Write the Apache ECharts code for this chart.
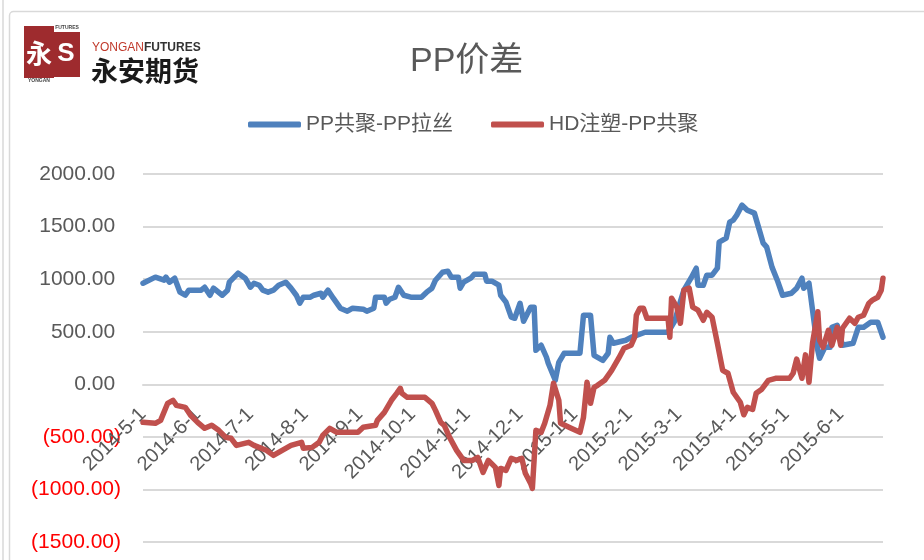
<!DOCTYPE html>
<html>
<head>
<meta charset="utf-8">
<script src="https://cdn.jsdelivr.net/npm/echarts@6/dist/echarts.min.js"></script>
<style>
  html, body { margin: 0; padding: 0; background: #fff; }
  #chart { width: 924px; height: 560px; }
</style>
</head>
<body>
<div id="chart"></div>
<script>
  // PP共聚-PP拉丝
  var blueDates = ['2014-5-1', '2014-5-8', '2014-5-13', '2014-5-14', '2014-5-16', '2014-5-19', '2014-5-22', '2014-5-25', '2014-5-27',
    '2014-6-3', '2014-6-5', '2014-6-8', '2014-6-10', '2014-6-15', '2014-6-18', '2014-6-19', '2014-6-24', '2014-6-28',
    '2014-7-1', '2014-7-3', '2014-7-6', '2014-7-8', '2014-7-11', '2014-7-14', '2014-7-15', '2014-7-17', '2014-7-18', '2014-7-21', '2014-7-24', '2014-7-27', '2014-7-29', '2014-7-31',
    '2014-8-4', '2014-8-6', '2014-8-10', '2014-8-11', '2014-8-14', '2014-8-17', '2014-8-21', '2014-8-25', '2014-8-28',
    '2014-9-3', '2014-9-5', '2014-9-9', '2014-9-10', '2014-9-15', '2014-9-16', '2014-9-18', '2014-9-21', '2014-9-23', '2014-9-26', '2014-9-30',
    '2014-10-6', '2014-10-9', '2014-10-12', '2014-10-14', '2014-10-18', '2014-10-21', '2014-10-23', '2014-10-27', '2014-10-28', '2014-10-30',
    '2014-11-3', '2014-11-5', '2014-11-11', '2014-11-12', '2014-11-15', '2014-11-19', '2014-11-20', '2014-11-23', '2014-11-26', '2014-11-28',
    '2014-12-1', '2014-12-3', '2014-12-7', '2014-12-9', '2014-12-10', '2014-12-13', '2014-12-16', '2014-12-17', '2014-12-21', '2014-12-23', '2014-12-26',
    '2015-1-4', '2015-1-6', '2015-1-10', '2015-1-12', '2015-1-17', '2015-1-20', '2015-1-21', '2015-1-23', '2015-1-30',
    '2015-2-2', '2015-2-10', '2015-2-23', '2015-2-27',
    '2015-3-1', '2015-3-4', '2015-3-8', '2015-3-11', '2015-3-12', '2015-3-15', '2015-3-17', '2015-3-20', '2015-3-23', '2015-3-24', '2015-3-28', '2015-3-30',
    '2015-4-1', '2015-4-3', '2015-4-6', '2015-4-9', '2015-4-13', '2015-4-15', '2015-4-18', '2015-4-20', '2015-4-23', '2015-4-26', '2015-4-29',
    '2015-5-4', '2015-5-7', '2015-5-10', '2015-5-11', '2015-5-14', '2015-5-17', '2015-5-19', '2015-5-20', '2015-5-23', '2015-5-26', '2015-5-27', '2015-5-30',
    '2015-6-2', '2015-6-8', '2015-6-11', '2015-6-14', '2015-6-18', '2015-6-22', '2015-6-25']
  var blueValues = [961, 1019, 990, 1019, 971, 1009, 876, 847, 895,
    895, 923, 847, 914, 847, 895, 971, 1057, 1009,
    923, 961, 942, 895, 876, 895, 876, 942, 933, 971, 914, 847, 771, 828,
    828, 847, 866, 828, 895, 819, 724, 695, 724,
    714, 695, 724, 828, 828, 771, 809, 828, 923, 847, 828,
    828, 876, 914, 990, 1066, 1076, 1019, 1019, 914, 971,
    1009, 1047, 1047, 981, 981, 942, 847, 781, 638, 628,
    771, 600, 733, 733, 323, 371, 257, 200, 38, 209, 295,
    295, 657, 657, 276, 228, 295, 447, 390, 419,
    447, 495, 495, 609,
    733, 895, 1009, 1104, 942, 942, 1038, 1038, 1104, 1352, 1390, 1542,
    1561, 1609, 1704, 1656, 1628, 1514, 1342, 1304, 1114, 990, 847,
    866, 914, 1009, 914, 961, 580, 323, 248, 352, 352, 542, 561,
    371, 390, 542, 542, 590, 590, 447]

  // HD注塑-PP共聚
  var redDates = ['2014-5-1', '2014-5-8', '2014-5-11', '2014-5-15', '2014-5-18', '2014-5-20', '2014-5-25', '2014-5-28',
    '2014-6-1', '2014-6-5', '2014-6-9', '2014-6-13', '2014-6-17', '2014-6-20', '2014-6-23', '2014-6-30',
    '2014-7-3', '2014-7-10', '2014-7-14', '2014-7-19', '2014-7-24', '2014-7-30', '2014-7-31',
    '2014-8-5', '2014-8-9', '2014-8-11', '2014-8-15', '2014-8-19', '2014-8-31',
    '2014-9-3', '2014-9-10', '2014-9-11', '2014-9-15', '2014-9-19', '2014-9-22', '2014-9-24', '2014-9-25', '2014-9-28',
    '2014-10-8', '2014-10-12', '2014-10-14', '2014-10-17', '2014-10-19', '2014-10-22', '2014-10-26', '2014-10-30',
    '2014-11-4', '2014-11-7', '2014-11-10', '2014-11-13', '2014-11-17', '2014-11-19', '2014-11-20', '2014-11-23', '2014-11-26', '2014-11-29',
    '2014-12-2', '2014-12-4', '2014-12-7', '2014-12-8', '2014-12-10', '2014-12-13', '2014-12-15', '2014-12-18', '2014-12-20', '2014-12-23', '2014-12-24', '2014-12-30',
    '2015-1-4', '2015-1-6', '2015-1-8', '2015-1-10', '2015-1-12', '2015-1-14', '2015-1-18', '2015-1-22', '2015-1-26', '2015-1-29',
    '2015-2-2', '2015-2-4', '2015-2-5', '2015-2-7', '2015-2-9', '2015-2-11', '2015-2-23', '2015-2-24', '2015-2-25', '2015-2-28',
    '2015-3-2', '2015-3-4', '2015-3-7', '2015-3-8', '2015-3-9', '2015-3-12', '2015-3-15', '2015-3-17', '2015-3-20', '2015-3-23', '2015-3-26', '2015-3-29',
    '2015-4-1', '2015-4-5', '2015-4-7', '2015-4-9', '2015-4-12', '2015-4-14', '2015-4-17', '2015-4-21', '2015-4-25',
    '2015-5-3', '2015-5-5', '2015-5-7', '2015-5-10', '2015-5-12', '2015-5-14', '2015-5-16', '2015-5-19', '2015-5-20', '2015-5-22', '2015-5-25', '2015-5-27', '2015-5-30',
    '2015-6-1', '2015-6-2', '2015-6-6', '2015-6-9', '2015-6-11', '2015-6-14', '2015-6-17', '2015-6-19', '2015-6-22', '2015-6-24', '2015-6-25']
  var redValues = [-362, -371, -343, -181, -152, -200, -219, -295,
    -362, -419, -390, -438, -505, -514, -581, -552,
    -581, -628, -676, -628, -581, -552, -609,
    -600, -552, -486, -419, -457, -457,
    -409, -390, -343, -267, -152, -86, -38, -86, -124,
    -124, -181, -248, -362, -390, -505, -628, -724,
    -724, -695, -838, -724, -790, -962, -800, -819, -705, -724,
    -705, -847, -943, -990, -438, -457, -371, -200, 10, -152, -371, -419,
    -457, -314, 19, -181, -29, -10, 38, 133, 248, 343,
    371, 447, 657, 724, 724, 628, 628, 447, 819, 733,
    580, 895, 914, 914, 733, 705, 609, 685, 638, 390, 133, 105,
    -76, -171, -290, -220, -240, -86, -50, 38, 57,
    57, 105, 240, 57, 280, 19, 390, 690, 419, 352, 514, 371, 542,
    371, 533, 628, 580, 638, 657, 771, 800, 828, 895, 1009]

  var monthTicks = ['2014-5-1', '2014-6-1', '2014-7-1', '2014-8-1', '2014-9-1', '2014-10-1', '2014-11-1', '2014-12-1',
    '2015-1-1', '2015-2-1', '2015-3-1', '2015-4-1', '2015-5-1', '2015-6-1']

  function toTime(s) {
    var p = s.split('-').map(Number)
    return new Date(p[0], p[1] - 1, p[2]).getTime()
  }
  function fmtDate(v) {
    var d = new Date(v)
    return d.getFullYear() + '-' + (d.getMonth() + 1) + '-' + d.getDate()
  }
  function fmtNum(v) {
    return v < 0 ? '(' + Math.abs(v).toFixed(2) + ')' : v.toFixed(2) + ' '
  }

  var font = "'Liberation Sans', 'Noto Sans CJK SC', sans-serif"
  var chart = echarts.init(document.getElementById('chart'))

  chart.setOption({
    animation: false,
    backgroundColor: '#fff',
    title: {
      text: 'PP价差',
      left: 405,
      top: 40,
      textStyle: { fontFamily: font, fontSize: 34, fontWeight: 'normal', color: '#595959' }
    },
    legend: {
      left: 243,
      top: 109,
      itemWidth: 53,
      itemHeight: 6,
      itemGap: 38,
      icon: 'roundRect',
      textStyle: { fontFamily: font, fontSize: 21, color: '#595959' },
      data: ['PP共聚-PP拉丝', 'HD注塑-PP共聚']
    },
    grid: { left: 143, right: 41, top: 174, bottom: 18, outerBoundsMode: 'none' },
    xAxis: {
      type: 'value',
      min: toTime('2014-5-1'),
      max: toTime('2015-6-25'),
      // the date axis crosses the value axis at 0
      offset: -157.7,
      axisLine: { lineStyle: { color: '#d9d9d9', width: 2 } },
      axisTick: { show: false },
      splitLine: { show: false },
      axisLabel: {
        rotate: 45,
        margin: 27,
        padding: [14, 0, 0, 0],
        customValues: monthTicks.map(toTime),
        formatter: fmtDate,
        fontFamily: font,
        fontSize: 20,
        color: '#595959'
      }
    },
    yAxis: {
      type: 'value',
      min: -1500,
      max: 2000,
      interval: 500,
      axisLine: { show: false },
      axisTick: { show: false },
      splitLine: { lineStyle: { color: '#d9d9d9', width: 2 } },
      axisLabel: {
        margin: 22,
        formatter: fmtNum,
        fontFamily: font,
        fontSize: 21,
        color: function (v) { return Number(v) < 0 ? '#ff0000' : '#595959' }
      }
    },
    series: [
      {
        name: 'PP共聚-PP拉丝',
        type: 'line',
        showSymbol: false,
        data: blueDates.map(function (d, i) { return [toTime(d), blueValues[i]] }),
        itemStyle: { color: '#4f81bd' },
        lineStyle: { color: '#4f81bd', width: 5.5, cap: 'round', join: 'round' }
      },
      {
        name: 'HD注塑-PP共聚',
        type: 'line',
        showSymbol: false,
        data: redDates.map(function (d, i) { return [toTime(d), redValues[i]] }),
        itemStyle: { color: '#c0504d' },
        lineStyle: { color: '#c0504d', width: 5.5, cap: 'round', join: 'round' }
      }
    ],
    graphic: [
      { type: 'line', shape: { x1: 3, y1: 0, x2: 3, y2: 560 }, style: { stroke: '#d9d9d9', lineWidth: 1.5 } },
      { type: 'rect', shape: { x: 9.5, y: 11.5, width: 1000, height: 700, r: 4 }, style: { fill: 'none', stroke: '#d9d9d9', lineWidth: 1.5 } },
      // logo
      { type: 'rect', shape: { x: 24, y: 26, width: 30, height: 52 }, style: { fill: '#9e2b2e' } },
      { type: 'rect', shape: { x: 52, y: 32, width: 28, height: 45 }, style: { fill: '#9e2b2e' } },
      { type: 'text', x: 39, y: 53, style: { text: '永', fill: '#fff', font: 'bold 26px "Noto Sans CJK SC"', textAlign: 'center', textVerticalAlign: 'middle' } },
      { type: 'text', x: 66, y: 54, style: { text: 'S', fill: '#fff', font: 'bold 26px "Liberation Sans"', textAlign: 'center', textVerticalAlign: 'middle' } },
      { type: 'text', x: 67, y: 28, style: { text: 'FUTURES', fill: '#444', font: 'bold 5px "Liberation Sans"', textAlign: 'center', textVerticalAlign: 'middle' } },
      { type: 'text', x: 39, y: 81, style: { text: 'YONGAN', fill: '#444', font: 'bold 5px "Liberation Sans"', textAlign: 'center', textVerticalAlign: 'middle' } },
      {
        type: 'text', x: 92, y: 48,
        style: {
          text: '{a|YONGAN}{b|FUTURES}',
          textVerticalAlign: 'middle',
          rich: {
            a: { fill: '#c0392b', font: '12px "Liberation Sans Narrow", "Liberation Sans"' },
            b: { fill: '#333', font: 'bold 12px "Liberation Sans Narrow", "Liberation Sans"' }
          }
        }
      },
      { type: 'text', x: 91, y: 71, style: { text: '永安期货', fill: '#1a1a1a', font: 'bold 27px "Noto Sans CJK SC"', textVerticalAlign: 'middle' } }
    ]
  })
</script>
</body>
</html>
